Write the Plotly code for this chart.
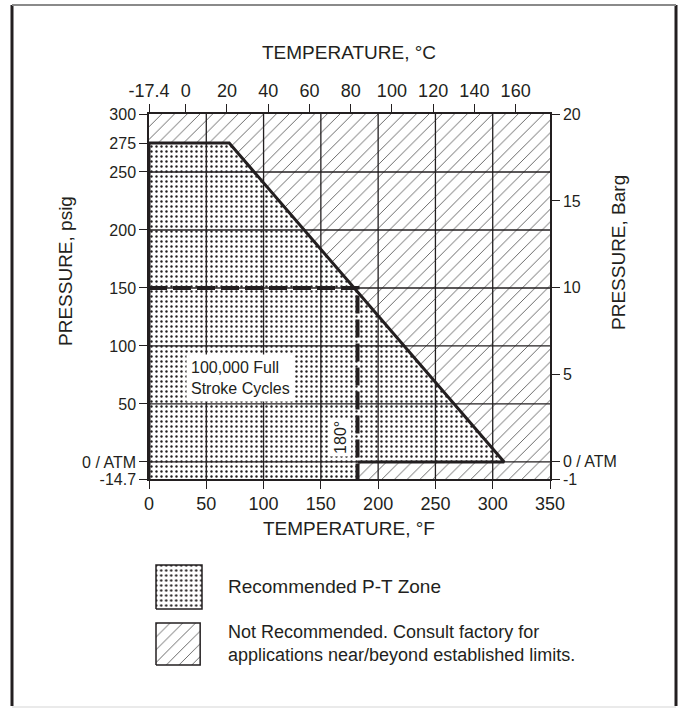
import plotly.graph_objects as go

# ---------------- data ----------------
TEMP_F_TICKS = [0, 50, 100, 150, 200, 250, 300, 350]
TEMP_C_TICK_VALUES = [-17.78, 0, 20, 40, 60, 80, 100, 120, 140, 160]
TEMP_C_TICK_TEXT = ["-17.4", "0", "20", "40", "60", "80", "100", "120", "140", "160"]
PSIG_TICK_VALUES = [-14.7, 0, 50, 100, 150, 200, 250, 275, 300]
PSIG_TICK_TEXT = ["-14.7", "0 / ATM", "50", "100", "150", "200", "250", "275", "300"]
BARG_TICK_VALUES = [-1, 0, 5, 10, 15, 20]
BARG_TICK_TEXT = ["-1", "0 / ATM", "5", "10", "15", "20"]
GRID_PSIG = [0, 50, 100, 150, 200, 250]
GRID_F = [50, 100, 150, 200, 250, 300]

F_RANGE = [0, 350]
PSIG_RANGE = [-14.7, 300]
BARG_RANGE = [-1.0, 20]

# Recommended P-T zone outline
ZONE_F = [0, 0, 70, 310, 182, 182, 0]
ZONE_PSIG = [-14.7, 275, 275, 0, 0, -14.7, -14.7]
# Not-recommended zone (complement inside the plot frame)
NOTREC_F = [0, 0, 350, 350, 182, 182, 310, 70, 0]
NOTREC_PSIG = [275, 300, 300, -14.7, -14.7, 0, 0, 275, 275]
# solid boundary line
BOUND_F = [0, 0, 70, 310, 182]
BOUND_PSIG = [-14.7, 275, 275, 0, 0]
# dashed 100,000 cycle limit
CYCLE_F = [0, 182, 182]
CYCLE_PSIG = [150, 150, -14.7]

FONT = "Liberation Sans, Arial, Helvetica, sans-serif"
INK = "#231f20"

W, H = 680, 709
def px(x):
    return x / W
def py(y):
    return 1 - y / H

fig = go.Figure()

dots = dict(shape=".", fgcolor=INK, bgcolor="white", size=5, solidity=0.18)
hatch = dict(shape="/", fgcolor="#5a5a5a", bgcolor="white", size=9, solidity=0.1)

fig.add_trace(go.Scatter(x=NOTREC_F, y=NOTREC_PSIG, fill="toself", mode="none",
                         fillcolor="white", fillpattern=hatch, showlegend=False,
                         hoverinfo="skip"))
fig.add_trace(go.Scatter(x=ZONE_F, y=ZONE_PSIG, fill="toself", mode="none",
                         fillcolor="white", fillpattern=dots, showlegend=False,
                         hoverinfo="skip"))
fig.add_trace(go.Scatter(x=BOUND_F, y=BOUND_PSIG, mode="lines",
                         line=dict(color=INK, width=3), showlegend=False,
                         hoverinfo="skip"))
fig.add_trace(go.Scatter(x=CYCLE_F, y=CYCLE_PSIG, mode="lines",
                         line=dict(color=INK, width=4, dash="18px,6px"),
                         showlegend=False, hoverinfo="skip"))

# secondary axes (Celsius / Barg) carriers
fig.add_trace(go.Scatter(x=[TEMP_C_TICK_VALUES[0]], y=[None], xaxis="x2", yaxis="y",
                         showlegend=False, hoverinfo="skip", mode="none"))
fig.add_trace(go.Scatter(x=[None], y=[BARG_TICK_VALUES[0]], xaxis="x", yaxis="y2",
                         showlegend=False, hoverinfo="skip", mode="none"))

# legend swatches
fig.add_trace(go.Scatter(x=[0, 1, 1, 0, 0], y=[56, 56, 100, 100, 56], fill="toself",
                         mode="lines", line=dict(color=INK, width=1.5),
                         fillcolor="white", fillpattern=dots,
                         xaxis="x3", yaxis="y3", showlegend=False, hoverinfo="skip"))
fig.add_trace(go.Scatter(x=[0, 0.96, 0.96, 0, 0], y=[0, 0, 42, 42, 0], fill="toself",
                         mode="lines", line=dict(color=INK, width=1.5),
                         fillcolor="white", fillpattern=hatch,
                         xaxis="x3", yaxis="y3", showlegend=False, hoverinfo="skip"))

XD = [px(149), px(550)]
YD = [py(479), py(114)]
xtickfont = dict(family=FONT, size=18, color=INK)
ytickfont = dict(family=FONT, size=16, color=INK)
common = dict(ticks="outside", ticklen=8, tickwidth=1.3, tickcolor=INK,
              showline=True, linecolor=INK, linewidth=1.5, showgrid=False,
              zeroline=False, automargin=False)

fig.update_layout(
    template="none",
    width=W, height=H, autosize=False,
    margin=dict(l=0, r=0, t=0, b=0, pad=0, autoexpand=False),
    paper_bgcolor="white", plot_bgcolor="white",
    xaxis=dict(domain=XD, range=F_RANGE, tickvals=TEMP_F_TICKS, anchor="y",
               tickfont=xtickfont, **common),
    xaxis2=dict(overlaying="x", side="top", anchor="y",
                range=[(F_RANGE[0] - 32) / 1.8, (F_RANGE[1] - 32) / 1.8],
                tickvals=TEMP_C_TICK_VALUES, ticktext=TEMP_C_TICK_TEXT,
                tickfont=xtickfont, **common),
    yaxis=dict(domain=YD, range=PSIG_RANGE, tickvals=PSIG_TICK_VALUES,
               ticktext=PSIG_TICK_TEXT, anchor="x", tickfont=ytickfont, **common),
    yaxis2=dict(overlaying="y", side="right", anchor="x", range=BARG_RANGE,
                tickvals=BARG_TICK_VALUES, ticktext=BARG_TICK_TEXT,
                tickfont=ytickfont, **common),
    xaxis3=dict(domain=[px(153.7), px(204.3)], range=[-0.05, 1.05], visible=False,
                anchor="y3", fixedrange=True, automargin=False),
    yaxis3=dict(domain=[py(667), py(563)], range=[-2, 102], visible=False,
                anchor="x3", fixedrange=True, automargin=False),
    showlegend=False,
)

shapes = []
for g in GRID_PSIG:
    shapes.append(dict(type="line", xref="x", yref="y", x0=F_RANGE[0], x1=F_RANGE[1],
                       y0=g, y1=g, line=dict(color=INK, width=1.3), layer="above"))
for g in GRID_F:
    shapes.append(dict(type="line", xref="x", yref="y", x0=g, x1=g,
                       y0=PSIG_RANGE[0], y1=PSIG_RANGE[1],
                       line=dict(color=INK, width=1.3), layer="above"))
# outer frame
shapes += [
    dict(type="line", xref="paper", yref="paper", x0=px(12), x1=px(12), y0=py(706), y1=py(5),
         line=dict(color=INK, width=3)),
    dict(type="line", xref="paper", yref="paper", x0=px(676), x1=px(676), y0=py(706), y1=py(5),
         line=dict(color=INK, width=3)),
    dict(type="line", xref="paper", yref="paper", x0=px(12), x1=px(676), y0=py(5), y1=py(5),
         line=dict(color="#8a8a8a", width=2)),
    dict(type="line", xref="paper", yref="paper", x0=px(12), x1=px(676), y0=py(707), y1=py(707),
         line=dict(color="#e3e3e3", width=1.5)),
]
fig.update_layout(shapes=shapes)

ann_font = dict(family=FONT, size=19, color=INK)
annotations = [
    dict(text="TEMPERATURE, °C", xref="paper", yref="paper", x=px(349), y=py(53),
         showarrow=False, font=ann_font, xanchor="center", yanchor="middle"),
    dict(text="TEMPERATURE, °F", xref="paper", yref="paper", x=px(349), y=py(528),
         showarrow=False, font=ann_font, xanchor="center", yanchor="middle"),
    dict(text="PRESSURE, psig", xref="paper", yref="paper", x=px(65), y=py(271),
         showarrow=False, font=ann_font, textangle=-90, xanchor="center", yanchor="middle"),
    dict(text="PRESSURE, Barg", xref="paper", yref="paper", x=px(618), y=py(253),
         showarrow=False, font=ann_font, textangle=-90, xanchor="center", yanchor="middle"),
    dict(text="100,000 Full<br>Stroke Cycles", xref="x", yref="y", x=80, y=72,
         showarrow=False, align="left", bgcolor="white", borderpad=4,
         font=dict(family=FONT, size=16, color=INK)),
    dict(text="180°", xref="x", yref="y", x=167, y=21, textangle=-90,
         showarrow=False, bgcolor="white", borderpad=2,
         font=dict(family=FONT, size=16, color=INK)),
    dict(text="Recommended P-T Zone", xref="paper", yref="paper", x=px(226), y=py(586),
         showarrow=False, xanchor="left", yanchor="middle", font=ann_font),
    dict(text="Not Recommended. Consult factory for<br>applications near/beyond established limits.",
         xref="paper", yref="paper", x=px(226), y=py(643), showarrow=False,
         xanchor="left", yanchor="middle", align="left",
         font=dict(family=FONT, size=18, color=INK)),
]
fig.update_layout(annotations=annotations)

fig.write_html(
    "out.html",
    config={"displayModeBar": False},
    post_script=(
        "document.documentElement.style.margin='0';"
        "document.documentElement.style.padding='0';"
        "document.documentElement.style.overflow='hidden';"
        "document.body.style.margin='0';"
        "document.body.style.padding='0';"
        "document.body.style.overflow='hidden';"
    ),
)
